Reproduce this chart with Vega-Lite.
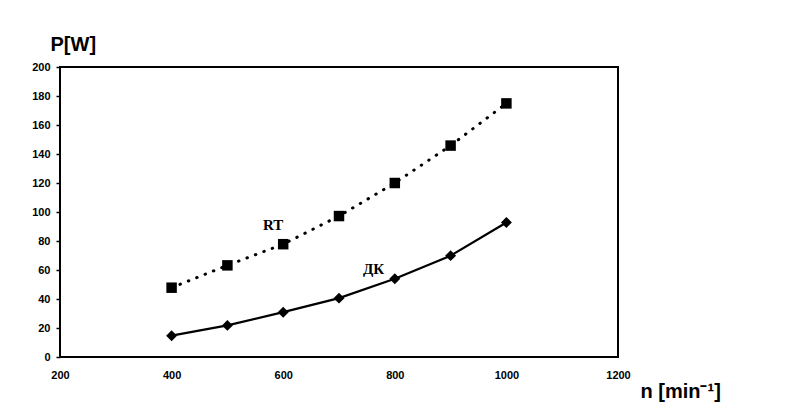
{
  "$schema": "https://vega.github.io/schema/vega-lite/v6.json",
  "autosize": "none",
  "width": 558,
  "height": 290,
  "padding": {"left": 60, "top": 67, "right": 191, "bottom": 61},
  "background": "white",
  "config": {
    "view": {"stroke": "black", "strokeWidth": 2},
    "font": "Liberation Sans"
  },
  "datasets": {
    "series": [
      {"n": 400, "P": 47.8, "series": "RT"},
      {"n": 500, "P": 63.2, "series": "RT"},
      {"n": 600, "P": 77.8, "series": "RT"},
      {"n": 700, "P": 97.2, "series": "RT"},
      {"n": 800, "P": 120, "series": "RT"},
      {"n": 900, "P": 145.8, "series": "RT"},
      {"n": 1000, "P": 174.9, "series": "RT"},
      {"n": 400, "P": 14.7, "series": "ДК"},
      {"n": 500, "P": 21.8, "series": "ДК"},
      {"n": 600, "P": 30.9, "series": "ДК"},
      {"n": 700, "P": 40.6, "series": "ДК"},
      {"n": 800, "P": 53.9, "series": "ДК"},
      {"n": 900, "P": 69.9, "series": "ДК"},
      {"n": 1000, "P": 92.8, "series": "ДК"}
    ],
    "labels": [
      {"n": 582, "P": 91, "label": "RT"},
      {"n": 762, "P": 61, "label": "ДК"}
    ]
  },
  "encoding": {
    "x": {
      "field": "n", "type": "quantitative",
      "scale": {"domain": [200, 1200], "nice": false, "zero": false},
      "axis": {
        "values": [200, 400, 600, 800, 1000, 1200],
        "format": "d",
        "title": "n [min⁻¹]",
        "titleFont": "Liberation Sans", "titleFontSize": 20, "titleFontWeight": "bold",
        "titleAlign": "left", "titleBaseline": "alphabetic", "titleAnchor": "start",
        "titleX": 580, "titleY": 40,
        "labelFont": "Liberation Sans", "labelFontSize": 11, "labelFontWeight": "bold",
        "labelPadding": 12, "labelFlush": false,
        "ticks": false, "domain": false, "grid": false, "labelColor": "black"
      }
    },
    "y": {
      "field": "P", "type": "quantitative",
      "scale": {"domain": [0, 200], "nice": false},
      "axis": {
        "values": [0, 20, 40, 60, 80, 100, 120, 140, 160, 180, 200],
        "title": "P[W]",
        "titleFont": "Liberation Sans", "titleFontSize": 20, "titleFontWeight": "bold",
        "titleAngle": 0, "titleAlign": "left", "titleBaseline": "alphabetic",
        "titleX": -10, "titleY": -17,
        "labelFont": "Liberation Sans", "labelFontSize": 11, "labelFontWeight": "bold",
        "labelPadding": 6, "tickSize": 4, "tickColor": "black", "tickWidth": 1.5,
        "domain": false, "grid": false, "labelColor": "black", "labelFlush": false
      }
    }
  },
  "layer": [
    {
      "data": {"name": "series"},
      "transform": [{"filter": "datum.series === 'RT'"}],
      "mark": {"type": "line", "color": "black", "strokeWidth": 3, "strokeDash": [0.5, 8.5], "strokeCap": "round"}
    },
    {
      "data": {"name": "series"},
      "transform": [{"filter": "datum.series === 'ДК'"}],
      "mark": {"type": "line", "color": "black", "strokeWidth": 2.2}
    },
    {
      "data": {"name": "series"},
      "transform": [{"filter": "datum.series === 'RT'"}],
      "mark": {"type": "point", "shape": "square", "filled": true, "color": "black", "size": 110, "opacity": 1}
    },
    {
      "data": {"name": "series"},
      "transform": [{"filter": "datum.series === 'ДК'"}],
      "mark": {"type": "point", "shape": "diamond", "filled": true, "color": "black", "size": 120, "opacity": 1}
    },
    {
      "data": {"name": "labels"},
      "mark": {"type": "text", "font": "Liberation Serif", "fontSize": 15, "fontWeight": "bold", "color": "black"},
      "encoding": {"text": {"field": "label"}}
    }
  ]
}
